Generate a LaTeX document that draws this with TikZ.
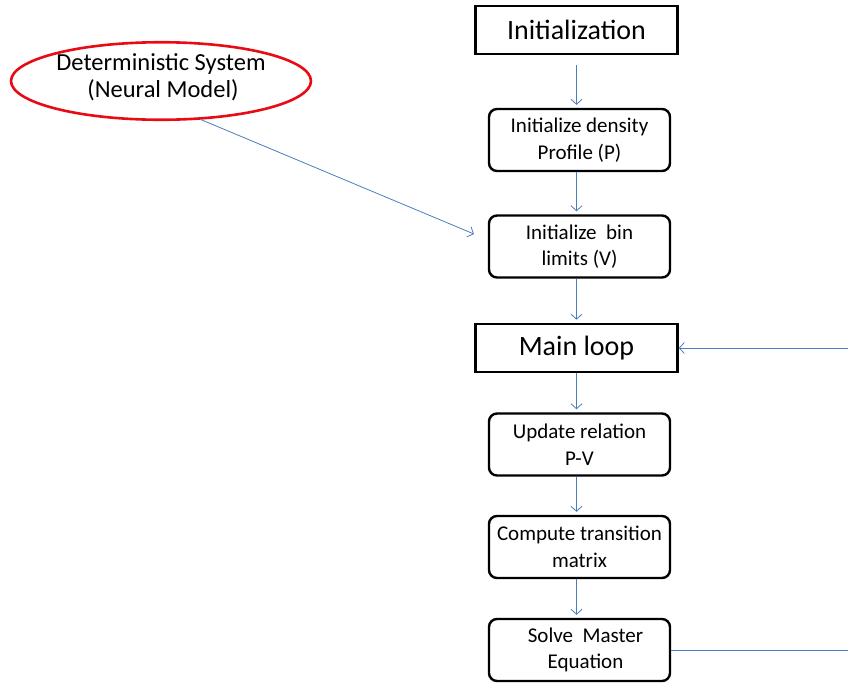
\documentclass[tikz,border=0pt]{standalone}
\usepackage{fontspec}
\setmainfont{Carlito}
\usetikzlibrary{arrows.meta,shapes.geometric,calc}
\definecolor{lnblue}{RGB}{74,126,187}
\definecolor{ellred}{RGB}{232,10,20}
\tikzset{
  bigbox/.style={draw=black,line width=2.6pt,rectangle,minimum width=202pt,minimum height=48pt,inner sep=0pt,align=center,font=\fontsize{28}{32}\selectfont},
  stepbox/.style={draw=black,line width=2.4pt,rectangle,rounded corners=8pt,minimum width=181pt,minimum height=62pt,inner sep=0pt,align=center,font=\fontsize{21}{26.5}\selectfont},
  arr/.style={draw=lnblue,line width=0.8pt,-{Straight Barb[length=5pt,width=11pt]},shorten >=3pt},
  plain/.style={draw=lnblue,line width=0.8pt},
}
\begin{document}
\begin{tikzpicture}[x=1pt,y=-1pt]
\useasboundingbox (0,0) rectangle (848,683);
\node[ellipse,draw=ellred,line width=2.6pt,minimum width=300pt,minimum height=76pt,inner sep=0pt,align=center,font=\fontsize{24.5}{29}\selectfont] (sys) at (161,81) {\raisebox{11pt}{\shortstack{Deterministic System\\[2pt]\hspace*{4pt}(Neural Model)}}};
\node[bigbox] (init) at (576.5,30) {Initialization};
\node[stepbox] (dens) at (579.5,140) {Initialize density\\Profile (P)};
\node[stepbox] (bin) at (579.5,246.5) {Initialize\ \ bin\\limits (V)};
\node[bigbox] (main) at (576.5,348) {Main loop};
\node[stepbox] (upd) at (579.5,444.5) {Update relation\\P-V};
\node[stepbox] (comp) at (579.5,547) {Compute transition\\matrix};
\node[stepbox] (solve) at (579.5,650) {\hspace*{12pt}Solve\ \ Master\\\hspace*{12pt}Equation};
\coordinate (tip) at (474,234);
\coordinate (edge) at (848,0);
\draw[arr,shorten <=10pt] (init.south) -- (init.south |- dens.north);
\draw[arr] (dens.south -| init.south) -- (init.south |- bin.north);
\draw[arr] (bin.south -| init.south) -- (main.north);
\draw[arr] (main.south) -- (main.south |- upd.north);
\draw[arr] (upd.south -| main.south) -- (main.south |- comp.north);
\draw[arr] (comp.south -| main.south) -- (main.south |- solve.north);
\draw[arr,shorten >=0pt] (sys.-44) -- (tip);
\draw[plain] (solve.east) -- (solve.east -| edge);
\draw[arr,shorten >=0pt] (main.east -| edge) -- (main.east);
\end{tikzpicture}
\end{document}
